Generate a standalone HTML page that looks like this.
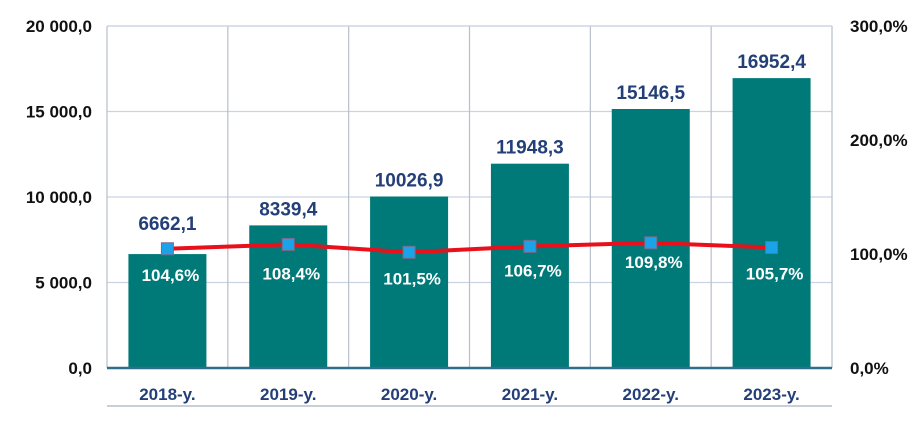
<!DOCTYPE html>
<html><head><meta charset="utf-8"><style>
body{margin:0;background:#fff;}
svg{display:block;font-family:"Liberation Sans",Arial,sans-serif;font-weight:bold;}
</style></head><body>
<svg id="chart" width="924" height="423"></svg>
<script>
const categories=["2018-y.","2019-y.","2020-y.","2021-y.","2022-y.","2023-y."];
const barValues=[6662.1,8339.4,10026.9,11948.3,15146.5,16952.4];
const barLabels=["6662,1","8339,4","10026,9","11948,3","15146,5","16952,4"];
const pctValues=[104.6,108.4,101.5,106.7,109.8,105.7];
const pctLabels=["104,6%","108,4%","101,5%","106,7%","109,8%","105,7%"];
const leftTicks=[0,5000,10000,15000,20000];
const leftTickLabels=["0,0","5 000,0","10 000,0","15 000,0","20 000,0"];
const rightTicks=[0,100,200,300];
const rightTickLabels=["0,0%","100,0%","200,0%","300,0%"];

const svg=document.getElementById('chart');
const NS="http://www.w3.org/2000/svg";
const X0=107,X1=832,Y0=368,Y1=26;
const cw=(X1-X0)/categories.length;
const yL=v=>Y0-(v/20000)*(Y0-Y1);
const yR=v=>Y0-(v/300)*(Y0-Y1);
const xc=i=>X0+cw*(i+0.5);
function mk(tag,attrs,name,txt){const e=document.createElementNS(NS,tag);for(const k in attrs)e.setAttribute(k,attrs[k]);


if(txt!==undefined)e.textContent=txt;svg.appendChild(e);return e;}

leftTicks.forEach((t,i)=>{
  if(t>0)mk('line',{x1:X0,x2:X1,y1:yL(t),y2:yL(t),stroke:'#c9d3e2','stroke-width':1.2},'h-gridline');
  mk('text',{x:92,y:yL(t)+6,'text-anchor':'end','font-size':17,fill:'#111'},'left-tick-label',leftTickLabels[i]);
});
rightTicks.forEach((t,i)=>{
  mk('text',{x:850,y:yR(t)+6,'text-anchor':'start','font-size':17,fill:'#111'},'right-tick-label',rightTickLabels[i]);
});
for(let i=0;i<=categories.length;i++){
  mk('line',{x1:X0+cw*i,x2:X0+cw*i,y1:Y1,y2:Y0,stroke:'#b8bfca','stroke-width':1.2},'v-gridline');
}
mk('line',{x1:X0,x2:X1,y1:Y1,y2:Y1,stroke:'#c9d3e2','stroke-width':1.2},'top-border');
const bw=78;
barValues.forEach((v,i)=>{
  mk('rect',{x:xc(i)-bw/2,y:yL(v),width:bw,height:Y0-yL(v),fill:'#007a78'},'bar-'+categories[i]);
  const off=i===0?24:10;
  mk('text',{x:xc(i),y:yL(v)-off,'text-anchor':'middle','font-size':19,fill:'#243f78'},'bar-value-label',barLabels[i]);
});
mk('line',{x1:X0,x2:X1,y1:Y0,y2:Y0,stroke:'#2f6f8a','stroke-width':2.5},'x-axis-line');
categories.forEach((c,i)=>{
  mk('text',{x:xc(i),y:400,'text-anchor':'middle','font-size':17,fill:'#243f78'},'x-tick-label',c);
});
mk('line',{x1:X0,x2:X1,y1:406,y2:406,stroke:'#b8bfca','stroke-width':1.5},'bottom-rule');
const pts=pctValues.map((v,i)=>xc(i)+','+yR(v)).join(' ');
mk('polyline',{points:pts,fill:'none',stroke:'#e8101a','stroke-width':4},'growth-line');
pctValues.forEach((v,i)=>{
  mk('rect',{x:xc(i)-6,y:yR(v)-6,width:12,height:12,fill:'#1aa3e8',stroke:'#7a6a8a','stroke-width':1},'growth-marker');
  const dy=[32,35,32,30,25,32][i];
  mk('text',{x:xc(i)+3,y:yR(v)+dy,'text-anchor':'middle','font-size':17,fill:'#fff'},'growth-label',pctLabels[i]);
});
</script>
</body></html>
